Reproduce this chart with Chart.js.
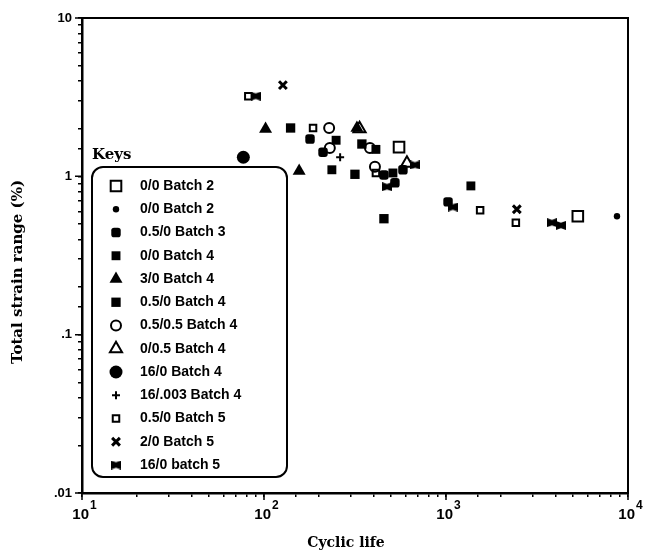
<!DOCTYPE html>
<html>
<head>
<meta charset="utf-8">
<script src="https://cdn.jsdelivr.net/npm/chart.js@4.4.0/dist/chart.umd.min.js"></script>
<style>
  body { margin: 0; background: #fff; }
</style>
</head>
<body>
<canvas id="fatigue" width="646" height="553"></canvas>
<script>
// series: cycles to failure vs total strain range (%)
const seriesNames = ['0/0 Batch 2', '0/0 Batch 2', '0.5/0 Batch 3', '0/0 Batch 4', '3/0 Batch 4',
  '0.5/0 Batch 4', '0.5/0.5 Batch 4', '0/0.5 Batch 4', '16/0 Batch 4', '16/.003 Batch 4',
  '0.5/0 Batch 5', '2/0 Batch 5', '16/0 batch 5'];

const cycles = [
  [552, 5300],
  [8700],
  [179, 211, 456, 524, 580, 1026],
  [249, 412, 236, 511, 1370],
  [102, 324, 156],
  [140, 345, 316, 456],
  [228, 230, 382, 407],
  [335, 610],
  [77],
  [262],
  [82, 186, 412, 1540, 2420],
  [127, 2450],
  [90, 474, 675, 1090, 3820, 4280]
];

const strain = [
  [1.53, 0.56],
  [0.56],
  [1.72, 1.42, 1.02, 0.91, 1.10, 0.69],
  [1.69, 1.48, 1.10, 1.05, 0.87],
  [1.99, 2.02, 1.08],
  [2.02, 1.60, 1.03, 0.54],
  [2.02, 1.51, 1.51, 1.15],
  [2.0, 1.21],
  [1.32],
  [1.32],
  [3.21, 2.02, 1.05, 0.61, 0.51],
  [3.77, 0.62],
  [3.21, 0.86, 1.18, 0.64, 0.51, 0.49]
];

const xTickValues = [10, 100, 1000, 10000];
const xTickBase = ['10', '10', '10', '10'];
const xTickPower = ['1', '2', '3', '4'];
const yTickValues = [0.01, 0.1, 1, 10];
const yTickLabels = ['.01', '.1', '1', '10'];

// bowtie marker for "16/0 batch 5"
function bowtie() {
  const c = document.createElement('canvas');
  c.width = 10; c.height = 9;
  const g = c.getContext('2d');
  g.fillStyle = '#000';
  g.beginPath();
  g.moveTo(0, 0); g.lineTo(5, 1.8); g.lineTo(10, 0);
  g.lineTo(10, 9); g.lineTo(5, 7.2); g.lineTo(0, 9);
  g.closePath();
  g.fill();
  return c;
}

const none = 'rgba(0,0,0,0)';
const markers = [
  { pointStyle: 'rect', pointRadius: 7.5, backgroundColor: none, borderWidth: 2 },
  { pointStyle: 'circle', pointRadius: 3.2, backgroundColor: '#000', borderWidth: 0 },
  { pointStyle: 'rectRounded', pointRadius: 5.5, backgroundColor: '#000', borderWidth: 0 },
  { pointStyle: 'rect', pointRadius: 6.3, backgroundColor: '#000', borderWidth: 0 },
  { pointStyle: 'triangle', pointRadius: 7.5, backgroundColor: '#000', borderWidth: 0 },
  { pointStyle: 'rect', pointRadius: 6.6, backgroundColor: '#000', borderWidth: 0 },
  { pointStyle: 'circle', pointRadius: 5, backgroundColor: none, borderWidth: 2 },
  { pointStyle: 'triangle', pointRadius: 7, backgroundColor: none, borderWidth: 2 },
  { pointStyle: 'circle', pointRadius: 6.5, backgroundColor: '#000', borderWidth: 0 },
  { pointStyle: 'cross', pointRadius: 4, backgroundColor: none, borderWidth: 2 },
  { pointStyle: 'rect', pointRadius: 4.6, backgroundColor: none, borderWidth: 2 },
  { pointStyle: 'crossRot', pointRadius: 5.5, backgroundColor: none, borderWidth: 3 },
  { pointStyle: bowtie(), pointRadius: 5, backgroundColor: '#000', borderWidth: 0 }
];

const datasets = seriesNames.map((name, i) => Object.assign({
  label: name,
  data: cycles[i].map((c, j) => ({ x: c, y: strain[i][j] })),
  showLine: false,
  borderColor: '#000'
}, markers[i]));

function sameTick(v, list) {
  return list.findIndex(t => Math.abs(Math.log10(v) - Math.log10(t)) < 1e-6);
}

const paper = {
  id: 'paper',
  beforeDraw(chart) {
    const ctx = chart.ctx;
    ctx.save();
    ctx.fillStyle = '#fff';
    ctx.fillRect(0, 0, chart.width, chart.height);
    ctx.restore();
  },
  afterDraw(chart) {
    const ctx = chart.ctx;
    const a = chart.chartArea;
    const xs = chart.scales.x, ys = chart.scales.y;
    ctx.save();
    ctx.strokeStyle = '#000';
    ctx.lineWidth = 2;
    ctx.strokeRect(a.left, a.top, a.right - a.left, a.bottom - a.top);

    // longer ticks at the decades
    ctx.lineWidth = 1.5;
    ctx.beginPath();
    xTickValues.forEach(v => {
      const px = xs.getPixelForValue(v);
      ctx.moveTo(px, a.bottom); ctx.lineTo(px, a.bottom + 7);
    });
    yTickValues.forEach(v => {
      const py = ys.getPixelForValue(v);
      ctx.moveTo(a.left, py); ctx.lineTo(a.left - 7, py);
    });
    ctx.stroke();

    // x tick labels with a raised power
    ctx.fillStyle = '#000';
    ctx.textBaseline = 'middle';
    xTickValues.forEach((v, i) => {
      const px = xs.getPixelForValue(v);
      ctx.font = 'bold 15px "Liberation Sans"';
      ctx.textAlign = 'right';
      ctx.fillText(xTickBase[i], px + 7, 515);
      ctx.font = 'bold 12px "Liberation Sans"';
      ctx.textAlign = 'left';
      ctx.fillText(xTickPower[i], px + 8, 506);
    });
    ctx.textAlign = 'left';

    // keys box
    ctx.fillStyle = '#fff';
    ctx.lineWidth = 2;
    ctx.beginPath();
    ctx.roundRect(92, 167, 195, 310, 11);
    ctx.fill();
    ctx.stroke();

    ctx.fillStyle = '#000';
    ctx.font = 'bold 15px "DejaVu Serif"';
    ctx.fillText('Keys', 92, 155);

    ctx.font = 'bold 14px "Liberation Sans"';
    chart.data.datasets.forEach((ds, i) => {
      const y = 186 + i * 23.25;
      ctx.save();
      ctx.fillStyle = ds.backgroundColor;
      ctx.strokeStyle = '#000';
      ctx.lineWidth = ds.borderWidth;
      Chart.helpers.drawPoint(ctx, {
        pointStyle: ds.pointStyle, radius: ds.pointRadius,
        borderWidth: ds.borderWidth, rotation: 0
      }, 116, y);
      ctx.restore();
      ctx.fillStyle = '#000';
      ctx.fillText(ds.label, 140, y);
    });

    // axis titles
    ctx.font = 'bold 14px "DejaVu Serif"';
    ctx.textAlign = 'center';
    ctx.fillText('Cyclic life', 346, 543);
    ctx.translate(18, 272);
    ctx.rotate(-Math.PI / 2);
    ctx.font = 'bold 15px "DejaVu Serif"';
    ctx.fillText('Total strain range (%)', 0, 0);
    ctx.restore();
  }
};

new Chart(document.getElementById('fatigue').getContext('2d'), {
  type: 'scatter',
  data: { datasets: datasets },
  options: {
    responsive: false,
    animation: false,
    layout: { padding: { top: 18, right: 18, left: 0, bottom: 0 } },
    plugins: { legend: { display: false }, tooltip: { enabled: false } },
    scales: {
      x: {
        type: 'logarithmic',
        min: 10,
        max: 10000,
        afterFit: s => { s.height = 60; },
        border: { display: true, color: '#000', width: 2.5 },
        grid: { drawOnChartArea: false, drawTicks: true, tickLength: 4, color: '#000', lineWidth: 1.5 },
        ticks: {
          autoSkip: false, maxRotation: 0, padding: 6, color: '#000',
          font: { family: 'Liberation Sans', size: 14, weight: 'bold' },
          callback: () => ''
        }
      },
      y: {
        type: 'logarithmic',
        min: 0.01,
        max: 10,
        afterFit: s => { s.width = 82; },
        border: { display: true, color: '#000', width: 2.5 },
        grid: { drawOnChartArea: false, drawTicks: true, tickLength: 4, color: '#000', lineWidth: 1.5 },
        ticks: {
          autoSkip: false, padding: 6, color: '#000',
          font: { family: 'Liberation Sans', size: 13, weight: 'bold' },
          callback: v => { const k = sameTick(v, yTickValues); return k >= 0 ? yTickLabels[k] : ''; }
        }
      }
    }
  },
  plugins: [paper]
});
</script>
</body>
</html>
